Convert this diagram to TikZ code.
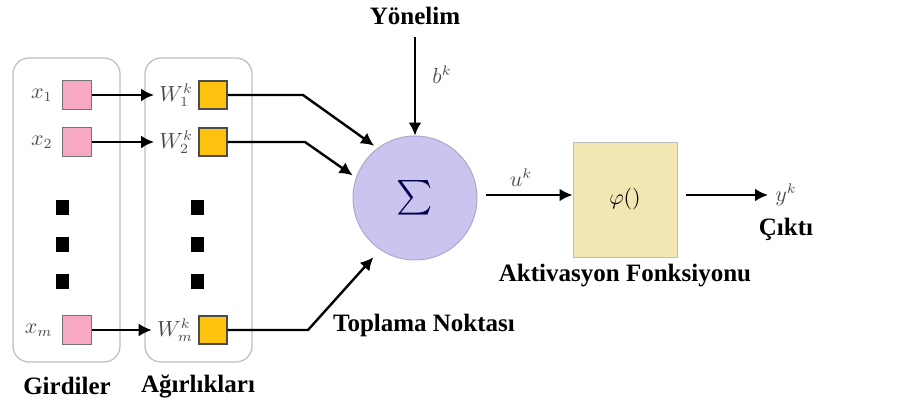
\documentclass[tikz,border=0pt]{standalone}
\usepackage{amsmath}
\usepackage{fontspec}
\setmainfont{Liberation Serif}
\usetikzlibrary{arrows.meta, positioning, calc}

\definecolor{inpink}{HTML}{F7A9C4}
\definecolor{wgold}{HTML}{FFC20E}
\definecolor{sumlilac}{HTML}{CBC4EE}
\definecolor{actkhaki}{HTML}{F2E6B2}
\definecolor{panelgray}{HTML}{BDBDBD}

\begin{document}
\begin{tikzpicture}[
      x=0.5pt, y=-0.5pt,
      panel/.style={rectangle, draw=panelgray, line width=0.6pt, rounded corners=8pt, minimum width=53.5pt, minimum height=152pt},
      inbox/.style={rectangle, draw=black!55, line width=0.6pt, fill=inpink, minimum size=14.5pt, inner sep=0pt},
      wbox/.style={rectangle, draw=black!70, line width=0.6pt, fill=wgold, minimum size=14pt, inner sep=0pt},
      dotbox/.style={rectangle, fill=black, minimum width=6.5pt, minimum height=7.5pt, inner sep=0pt},
      var/.style={font=\fontsize{10.5}{12}\selectfont, text=black!70, inner sep=0.5pt},
      caption/.style={font=\fontsize{12.5}{15}\selectfont\bfseries, inner sep=1pt},
      arrow/.style={-{Latex[length=6.5pt, width=6.5pt]}, line width=1.2pt}
    ]
    \useasboundingbox (0,0) rectangle (917,407);

    % panels
    \node[panel] (inpanel) at (66.5,210) {};
    \node[panel] (wpanel) at (198.5,210) {};

    % inputs
    \node[inbox] (x1) at (77,95) {};
    \node[inbox] (x2) at (77,142) {};
    \node[inbox] (xm) at (77,330) {};
    \node[var, left=4pt of x1] (lx1) {$x_1$};
    \node[var, left=4pt of x2] (lx2) {$x_2$};
    \node[var, left=4pt of xm] (lxm) {$x_m$};

    % weights
    \node[wbox] (w1) at (213,95) {};
    \node[wbox] (w2) at (213,142) {};
    \node[wbox] (wm) at (213,330) {};
    \node[var, left=2pt of w1] (lw1) {$W_1^k$};
    \node[var, left=2pt of w2] (lw2) {$W_2^k$};
    \node[var, left=2pt of wm] (lwm) {$W_m^k$};

    % dots
    \foreach \y [count=\i] in {207,244,281} {
      \node[dotbox] (dl\i) at (62,\y) {};
      \node[dotbox] (dr\i) at (197,\y) {};
    }

    \draw[arrow, shorten >=2pt] (x1) -- (lw1);
    \draw[arrow, shorten >=2pt] (x2) -- (lw2);
    \draw[arrow, shorten >=2pt] (xm) -- (lwm);

    % summing junction
    \node[circle, draw=sumlilac!85!black, line width=0.5pt, fill=sumlilac, minimum size=62pt, inner sep=0pt] (sum) at (415,198) {\fontsize{16.5}{20}\selectfont\color{black!70!blue}$\textstyle\sum$};

    \coordinate (k1) at (303,95);
    \coordinate (k2) at (305,142);
    \coordinate (km) at (308,330);
    \draw[arrow, shorten >=2pt] (w1) -- (k1) -- (sum.127);
    \draw[arrow, shorten >=2pt] (w2) -- (k2) -- (sum.161);
    \draw[arrow, shorten >=5pt] (wm) -- (km) -- (sum.236);

    % bias
    \node[caption] (bias) at (415,16) {Yönelim};
    \draw[arrow] ($(bias.south)+(0,10)$) -- (sum.north);
    \node[var] (lb) at (442,75) {$b^k$};

    % activation
    \node[rectangle, draw=black!25, line width=0.5pt, fill=actkhaki, minimum width=52pt, minimum height=57.5pt, inner sep=0pt] (act) at (625,199.5) {\fontsize{11}{13}\selectfont$\varphi()$};
    \path (sum.east) ++(8,-3) coordinate (ustart);
    \draw[arrow] (ustart) -- (act.west |- ustart);
    \node[var] (lu) at (521,178) {$u^k$};

    % output
    \coordinate (yend) at (768,195);
    \path (act.east |- yend) ++(8,0) coordinate (ystart);
    \draw[arrow] (ystart) -- (yend);
    \node[var, right=3pt of yend] (ly) {$y^k$};

    % captions
    \node[caption] (toplama) at (424,325) {Toplama Noktası};
    \node[caption] (aktiv) at (625,276) {Aktivasyon Fonksiyonu};
    \node[caption] (cikti) at (786,229) {Çıktı};
    \node[caption] (girdi) at (67,386) {Girdiler};
    \node[caption] (agir) at (198,386) {Ağırlıkları};
  \end{tikzpicture}
\end{document}
